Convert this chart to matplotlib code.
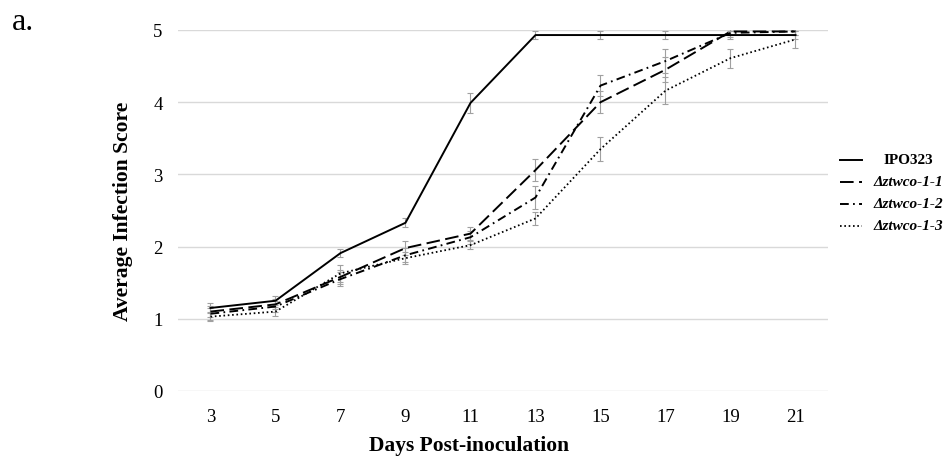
import matplotlib
matplotlib.use("Agg")
import matplotlib.pyplot as plt
from matplotlib.lines import Line2D

days = [3, 5, 7, 9, 11, 13, 15, 17, 19, 21]
series_names = ["IPO323", "Δztwco-1-1", "Δztwco-1-2", "Δztwco-1-3"]
ipo323 = [1.15, 1.25, 1.91, 2.33, 3.99, 4.93, 4.93, 4.93, 4.93, 4.93]
ztwco_1_1 = [1.10, 1.20, 1.58, 1.98, 2.18, 3.06, 4.00, 4.45, 4.98, 4.98]
ztwco_1_2 = [1.07, 1.17, 1.55, 1.88, 2.13, 2.68, 4.23, 4.57, 4.96, 4.98]
ztwco_1_3 = [1.03, 1.10, 1.63, 1.84, 2.02, 2.39, 3.35, 4.16, 4.61, 4.87]
err_ipo323 = [0.07, 0.06, 0.06, 0.06, 0.14, 0.05, 0.05, 0.05, 0.05, 0.05]
err_1_1 = [0.08, 0.07, 0.10, 0.10, 0.09, 0.15, 0.15, 0.17, 0.05, 0.05]
err_1_2 = [0.08, 0.07, 0.10, 0.10, 0.09, 0.16, 0.15, 0.16, 0.06, 0.05]
err_1_3 = [0.06, 0.06, 0.12, 0.08, 0.06, 0.09, 0.17, 0.19, 0.13, 0.12]
y_ticks = [0, 1, 2, 3, 4, 5]

plt.rcParams['font.family'] = ['Liberation Serif', 'DejaVu Serif']

W, H = 945, 460
fig = plt.figure(figsize=(W / 100, H / 100), dpi=100)
ax = fig.add_axes([178 / W, 68 / H, 650 / W, 361 / H])

styles = [
    dict(linestyle='-', lw=1.4),
    dict(linestyle=(0, (7.0, 2.8)), lw=1.4),
    dict(linestyle=(0, (4.5, 2.2, 0.9, 2.2)), lw=1.4),
    dict(linestyle=(0, (0.9, 1.5)), lw=1.3),
]
data = [ipo323, ztwco_1_1, ztwco_1_2, ztwco_1_3]
errs = [err_ipo323, err_1_1, err_1_2, err_1_3]

for vals, er in zip(data, errs):
    ax.errorbar(days, vals, yerr=er, fmt='none', ecolor='#a0a0a0',
                elinewidth=0.8, capsize=2.5, capthick=0.8, zorder=2)

for vals, st, name in zip(data, styles, series_names):
    ax.plot(days, vals, color='black', linestyle=st['linestyle'],
            lw=st['lw'], zorder=3, label=name)

ax.set_xlim(2, 22)
ax.set_ylim(0, 5)
ax.set_xticks(days)
ax.set_xticklabels([str(d) for d in days])
ax.set_yticks(y_ticks)
ax.set_yticklabels([str(t) for t in y_ticks])
ax.grid(axis='y', color='#d9d9d9', lw=1.0, zorder=0)
ax.set_axisbelow(True)
for s in ax.spines.values():
    s.set_visible(False)
ax.tick_params(axis='both', length=0, labelsize=13.5, colors='black')
ax.tick_params(axis='y', pad=11)
ax.tick_params(axis='x', pad=12)

fig.text(469 / W, 9 / H, "Days Post-inoculation", ha='center', va='baseline',
         fontsize=15.5, fontweight='bold')
fig.text(123 / W, (H - 211) / H, "Average Infection Score", ha='center',
         va='center', rotation=90, fontsize=15.5, fontweight='bold')
fig.text(12 / W, (H - 30) / H, "a.", ha='left', va='baseline', fontsize=23)

# legend (centered labels, as in the reference)
row_y = [161, 183, 205, 227]
for i, (st, name, yy) in enumerate(zip(styles, series_names, row_y)):
    yf = (H - yy) / H
    fig.add_artist(Line2D([840 / W, 862 / W], [yf, yf], color='black',
                          linestyle=st['linestyle'], lw=st['lw'],
                          transform=fig.transFigure))
    fig.text(908 / W, yf, name, ha='center', va='center', fontsize=11,
             fontweight='bold', fontstyle='normal' if i == 0 else 'italic')

fig.savefig("out.png", dpi=100)
